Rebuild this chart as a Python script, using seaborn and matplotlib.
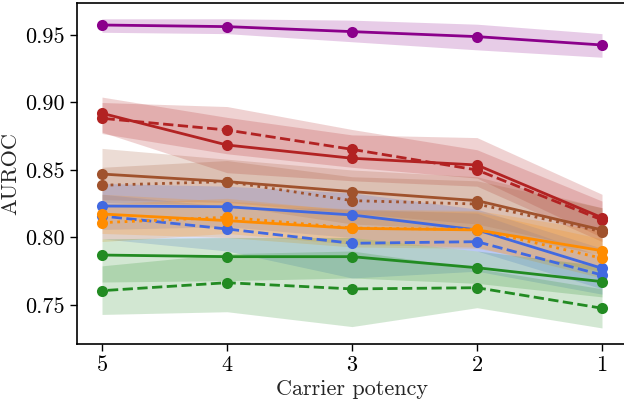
import matplotlib
matplotlib.use("Agg")
import matplotlib.pyplot as plt
import seaborn as sns
import numpy as np
import pandas as pd

# ---- data ----
potency = [5, 4, 3, 2, 1]

purple_mean = [0.9574, 0.9562, 0.9525, 0.9488, 0.9426]
purple_lo = [0.952, 0.951, 0.945, 0.939, 0.9335]
purple_hi = [0.962, 0.962, 0.961, 0.958, 0.951]

red_solid = [0.892, 0.8685, 0.8587, 0.8537, 0.8147]
red_solid_lo = [0.878, 0.848, 0.842, 0.838, 0.797]
red_solid_hi = [0.904, 0.889, 0.876, 0.874, 0.832]

red_dash = [0.8883, 0.8796, 0.8653, 0.8500, 0.8130]
red_dash_lo = [0.877, 0.862, 0.852, 0.844, 0.800]
red_dash_hi = [0.900, 0.897, 0.880, 0.865, 0.827]

brown_solid = [0.8470, 0.8414, 0.8340, 0.8273, 0.8056]
brown_solid_lo = [0.828, 0.826, 0.818, 0.810, 0.790]
brown_solid_hi = [0.866, 0.858, 0.850, 0.845, 0.822]

brown_dot = [0.8387, 0.8414, 0.8273, 0.8248, 0.8043]
brown_dot_lo = [0.826, 0.824, 0.810, 0.806, 0.787]
brown_dot_hi = [0.852, 0.857, 0.845, 0.842, 0.822]

blue_solid = [0.8233, 0.8228, 0.8167, 0.8056, 0.7772]
blue_solid_lo = [0.806, 0.808, 0.800, 0.790, 0.762]
blue_solid_hi = [0.840, 0.838, 0.833, 0.821, 0.792]

blue_dash = [0.8159, 0.8063, 0.7957, 0.7969, 0.7722]
blue_dash_lo = [0.799, 0.790, 0.770, 0.775, 0.758]
blue_dash_hi = [0.832, 0.823, 0.821, 0.818, 0.786]

orange_solid = [0.8174, 0.8125, 0.8068, 0.8056, 0.7902]
orange_solid_lo = [0.803, 0.800, 0.793, 0.792, 0.775]
orange_solid_hi = [0.832, 0.827, 0.821, 0.820, 0.805]

orange_dot = [0.8110, 0.8150, 0.8070, 0.8060, 0.7846]
orange_dot_lo = [0.797, 0.803, 0.795, 0.793, 0.770]
orange_dot_hi = [0.825, 0.829, 0.820, 0.819, 0.799]

green_solid = [0.7870, 0.7858, 0.7858, 0.7776, 0.7673]
green_solid_lo = [0.767, 0.768, 0.770, 0.766, 0.756]
green_solid_hi = [0.799, 0.800, 0.800, 0.790, 0.779]

green_dash = [0.7606, 0.7665, 0.7619, 0.7628, 0.7476]
green_dash_lo = [0.743, 0.745, 0.734, 0.748, 0.733]
green_dash_hi = [0.779, 0.788, 0.790, 0.777, 0.762]

x_ticks = [5, 4, 3, 2, 1]
y_ticks = [0.75, 0.80, 0.85, 0.90, 0.95]

series = [
    (purple_mean, purple_lo, purple_hi, "darkmagenta", "-"),
    (red_solid, red_solid_lo, red_solid_hi, "firebrick", "-"),
    (red_dash, red_dash_lo, red_dash_hi, "firebrick", "--"),
    (brown_solid, brown_solid_lo, brown_solid_hi, "sienna", "-"),
    (brown_dot, brown_dot_lo, brown_dot_hi, "sienna", ":"),
    (blue_solid, blue_solid_lo, blue_solid_hi, "royalblue", "-"),
    (blue_dash, blue_dash_lo, blue_dash_hi, "royalblue", "--"),
    (orange_solid, orange_solid_lo, orange_solid_hi, "darkorange", "-"),
    (orange_dot, orange_dot_lo, orange_dot_hi, "darkorange", ":"),
    (green_solid, green_solid_lo, green_solid_hi, "forestgreen", "-"),
    (green_dash, green_dash_lo, green_dash_hi, "forestgreen", "--"),
]

sns.set_style("ticks")
plt.rcParams["font.family"] = ["serif"]
plt.rcParams["font.serif"] = ["cmr10", "DejaVu Serif"]
plt.rcParams["mathtext.fontset"] = "cm"
plt.rcParams["axes.formatter.use_mathtext"] = True
plt.rcParams["axes.unicode_minus"] = False

fig = plt.figure(figsize=(6.24, 4.01), dpi=100)
ax = fig.add_axes([77 / 624, 57 / 401, 550 / 624, 341 / 401])

for mean, lo, hi, color, ls in series:
    ax.fill_between(potency, lo, hi, color=color, alpha=0.2, linewidth=0)

for mean, lo, hi, color, ls in series:
    df = pd.DataFrame({"potency": potency, "auroc": mean})
    sns.lineplot(data=df, x="potency", y="auroc", ax=ax, color=color,
                 linestyle=ls, linewidth=2, marker="o", markersize=8,
                 markeredgewidth=0, errorbar=None)

ax.set_xlim(5.2, 0.8)
ax.set_ylim(0.7211, 0.9737)
ax.set_xticks(x_ticks)
ax.set_xticklabels([str(v) for v in x_ticks])
ax.set_yticks(y_ticks)
ax.set_yticklabels([f"{v:.2f}" for v in y_ticks])
ax.tick_params(labelsize=16, length=5, width=1, colors="black")
ax.set_xlabel("Carrier potency", fontsize=16, labelpad=3)
ax.set_ylabel("AUROC", fontsize=16, labelpad=4)
for s in ax.spines.values():
    s.set_visible(True)
    s.set_color("black")
    s.set_linewidth(1.2)

fig.savefig("out.png", dpi=100)
